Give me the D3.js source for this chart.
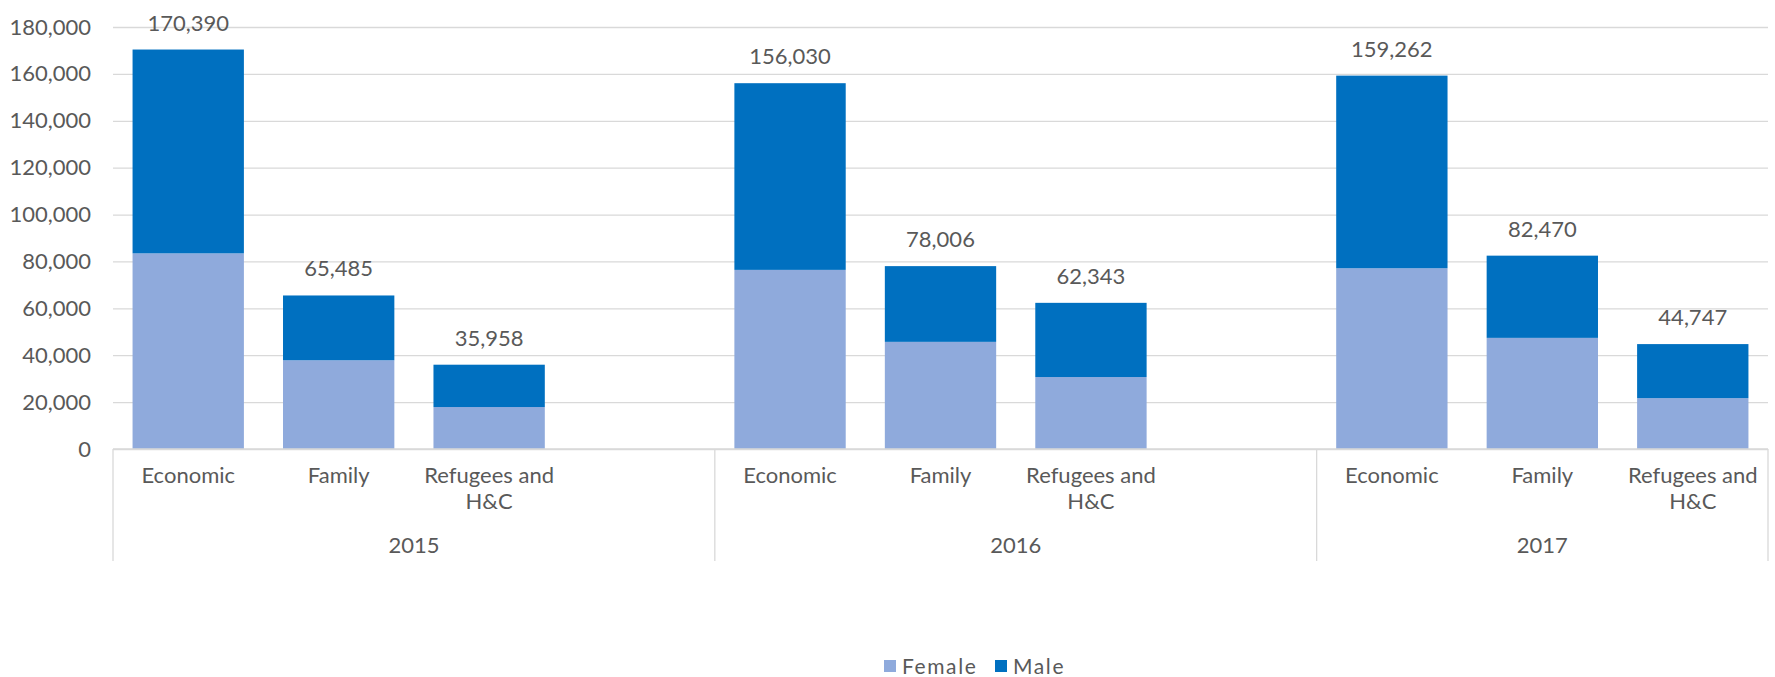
<!DOCTYPE html>
<html>
<head>
<meta charset="utf-8">
<script src="https://cdn.jsdelivr.net/npm/d3@7"></script>
<style>
  body { margin: 0; background: #fff; }
  text { font-family: Lato, "Open Sans", sans-serif; fill: #595959; }
</style>
</head>
<body>
<div id="chart"></div>
<script>
// data ------------------------------------------
var years = ["2015", "2016", "2017"];
var categories = ["Economic", "Family", "Refugees and H&C"];
var categoryLines = [["Economic"], ["Family"], ["Refugees and", "H&C"]];
var seriesNames = ["Female", "Male"];
// one value per year x category, in order 2015 (Eco, Fam, Ref), 2016 ..., 2017 ...
var female = [83450, 37850, 17900, 76400, 45700, 30700, 77100, 47400, 21700];
var male = [86940, 27635, 18058, 79630, 32306, 31643, 82162, 35070, 23047];
var yTicks = [0, 20000, 40000, 60000, 80000, 100000, 120000, 140000, 160000, 180000];
var colors = ["#8FAADC", "#0070C0"];

// dimensions
var W = 1775, H = 677;
var margin = { top: 27, right: 7, bottom: 228, left: 113 };
var width = W - margin.left - margin.right,
  height = H - margin.top - margin.bottom;
var fs = "22px";

var svg = d3.select("#chart").append("svg")
  .attr("width", W)
  .attr("height", H);

// rows for the stack
var rows = [];
years.forEach(function (yr, i) {
  categories.forEach(function (cat, j) {
    var k = i * categories.length + j;
    rows.push({ key: yr + "|" + cat, year: yr, cat: j, Female: female[k], Male: male[k] });
  });
});

// slots: every year gets an empty slot after it, except the last one
var slots = [];
years.forEach(function (yr, i) {
  categories.forEach(function (cat) { slots.push(yr + "|" + cat); });
  if (i < years.length - 1) slots.push(yr + "|");
});

var x = d3.scaleBand()
  .domain(slots)
  .range([margin.left, margin.left + width])
  .paddingInner(0.26)
  .paddingOuter(0.13);

var y = d3.scaleLinear()
  .domain([0, 180000])
  .range([margin.top + height, margin.top]);

// gridlines
svg.append("g")
  .attr("transform", "translate(" + margin.left + ",0)")
  .call(d3.axisLeft(y).tickValues(yTicks).tickSize(-width).tickFormat(""))
  .call(function (g) {
    g.select(".domain").remove();
    g.selectAll("line").attr("stroke", "#D9D9D9").attr("stroke-width", 1.3);
  });

// y tick labels
svg.append("g")
  .attr("transform", "translate(" + margin.left + ",0)")
  .call(d3.axisLeft(y).tickValues(yTicks).tickSize(0).tickPadding(22).tickFormat(d3.format(",")))
  .call(function (g) {
    g.select(".domain").remove();
    g.selectAll("text").style("font-size", fs).attr("fill", "#595959");
  });

// stacked bars
var stack = d3.stack().keys(seriesNames)(rows);
svg.append("g").selectAll("g")
  .data(stack)
  .join("g")
  .attr("fill", function (d, i) { return colors[i]; })
  .selectAll("rect")
  .data(function (d) { return d; })
  .join("rect")
  .attr("x", function (d) { return x(d.data.key); })
  .attr("y", function (d) { return y(d[1]); })
  .attr("width", x.bandwidth())
  .attr("height", function (d) { return y(d[0]) - y(d[1]); });

// total labels
svg.append("g").selectAll("text")
  .data(rows)
  .join("text")
  .attr("x", function (d) { return x(d.key) + x.bandwidth() / 2; })
  .attr("y", function (d) { return y(d.Female + d.Male) - 19; })
  .attr("text-anchor", "middle")
  .style("font-size", fs)
  .text(function (d) { return d3.format(",")(d.Female + d.Male); });

// baseline + group separators
var base = y(0);
var sepBottom = 561;
svg.append("line")
  .attr("x1", margin.left).attr("x2", margin.left + width)
  .attr("y1", base).attr("y2", base)
  .attr("stroke", "#D9D9D9").attr("stroke-width", 1.3);

var bounds = years.map(function (yr) {
  return x(yr + "|" + categories[0]) - x.step() * x.paddingOuter();
});
bounds.push(margin.left + width);
svg.append("g").selectAll("line")
  .data(bounds)
  .join("line")
  .attr("x1", function (d) { return d; }).attr("x2", function (d) { return d; })
  .attr("y1", base).attr("y2", sepBottom)
  .attr("stroke", "#D9D9D9").attr("stroke-width", 1.3);

// category labels
var catG = svg.append("g").selectAll("text")
  .data(rows)
  .join("text")
  .attr("text-anchor", "middle")
  .attr("y", base + 34)
  .style("font-size", fs);
catG.selectAll("tspan")
  .data(function (d) {
    var cx = x(d.key) + x.bandwidth() / 2;
    return categoryLines[d.cat].map(function (l) { return { t: l, cx: cx }; });
  })
  .join("tspan")
  .attr("x", function (d) { return d.cx; })
  .attr("dy", function (d, i) { return i === 0 ? 0 : 26; })
  .text(function (d) { return d.t; });

// year labels
svg.append("g").selectAll("text")
  .data(years)
  .join("text")
  .attr("x", function (d, i) { return (bounds[i] + bounds[i + 1]) / 2; })
  .attr("y", base + 104)
  .attr("text-anchor", "middle")
  .style("font-size", fs)
  .text(function (d) { return d; });

// legend
var legend = svg.append("g").attr("transform", "translate(0,666)");
var legX = [884, 995];
seriesNames.forEach(function (name, i) {
  legend.append("rect")
    .attr("x", legX[i]).attr("y", -6)
    .attr("width", 12).attr("height", 12)
    .attr("fill", colors[i]);
  legend.append("text")
    .attr("x", legX[i] + 18).attr("y", 8)
    .style("font-size", "21px")
    .style("letter-spacing", "1.6px")
    .text(name);
});
</script>
</body>
</html>
